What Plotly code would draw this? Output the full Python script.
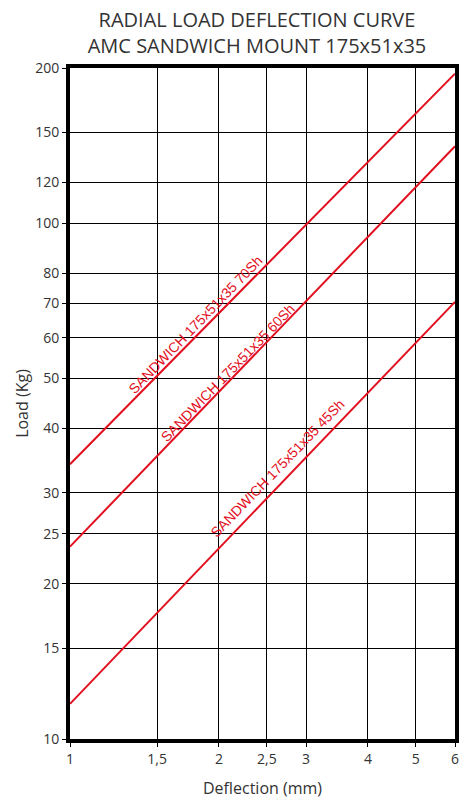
import math
import plotly.graph_objects as go

# Data
series_names = ["SANDWICH 175x51x35 70Sh", "SANDWICH 175x51x35 60Sh", "SANDWICH 175x51x35 45Sh"]
deflection = [1, 6]
load_70sh = [34.1, 195.0]
load_60sh = [23.6, 141.0]
load_45sh = [11.7, 70.4]
label_x = [1.79, 2.08, 2.63]
label_y = [63.5, 51.3, 33.5]

x_tickvals = [1, 1.5, 2, 2.5, 3, 4, 5, 6]
x_ticktext = ["1", "1,5", "2", "2,5", "3", "4", "5", "6"]
y_tickvals = [10, 15, 20, 25, 30, 40, 50, 60, 70, 80, 100, 120, 150, 200]

RED = "#e2101e"
TXT = "#333333"
fig = go.Figure()
for name, ys in zip(series_names, [load_70sh, load_60sh, load_45sh]):
    fig.add_trace(go.Scatter(x=deflection, y=ys, mode="lines", name=name,
                             line=dict(color=RED, width=2), showlegend=False,
                             hoverinfo="skip"))

for name, lx, ly in zip(series_names, label_x, label_y):
    fig.add_annotation(x=math.log10(lx), y=math.log10(ly), xref="x", yref="y",
                       text=name, showarrow=False, textangle=-46,
                       font=dict(family="Liberation Sans, Arial", size=14, color=RED))

axis_common = dict(showgrid=True, gridcolor="black", gridwidth=1,
                   showline=True, linecolor="black", linewidth=4, mirror=True,
                   ticks="outside", ticklen=4, tickcolor="black", tickwidth=1,
                   zeroline=False, tickfont=dict(family="Open Sans", size=14, color=TXT))

fig.update_xaxes(type="log", range=[0, math.log10(6)], tickvals=x_tickvals,
                 ticktext=x_ticktext,
                 title=dict(text="Deflection (mm)", font=dict(family="Open Sans", size=16, color=TXT), standoff=17),
                 **axis_common)
fig.update_yaxes(type="log", range=[1, math.log10(200)], tickvals=y_tickvals,
                 ticktext=[str(v) for v in y_tickvals],
                 title=dict(text="Load (Kg)", font=dict(family="Open Sans", size=16, color=TXT), standoff=4),
                 **axis_common)

fig.update_layout(
    width=472, height=808,
    margin=dict(l=70, r=17, t=68, b=66),
    paper_bgcolor="white", plot_bgcolor="white",
    title=dict(text="RADIAL LOAD DEFLECTION CURVE<br>AMC SANDWICH MOUNT 175x51x35",
               xref="container", x=257 / 472, xanchor="center",
               yref="container", y=1 - 27 / 808, yanchor="top",
               font=dict(family="Open Sans", size=20, color=TXT)),
)

fig.write_html("out.html", config={"displayModeBar": False},
               post_script="document.body.style.margin='0';document.documentElement.style.overflow='hidden';")
